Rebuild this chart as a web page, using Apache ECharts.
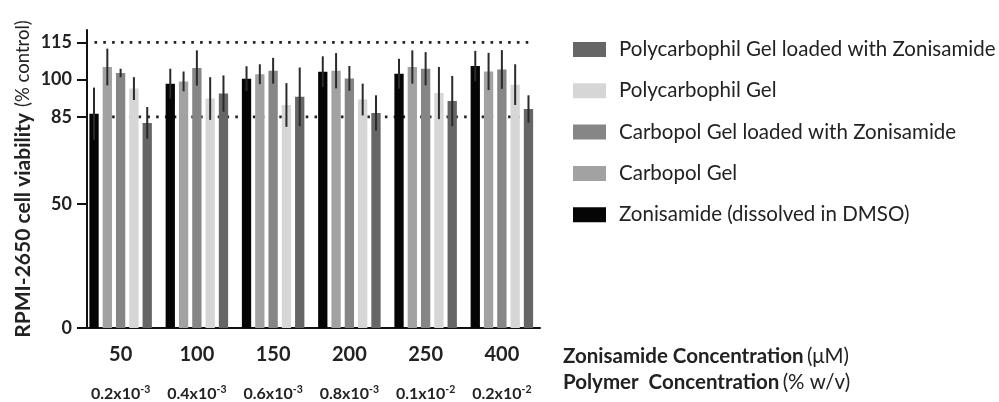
<!DOCTYPE html>
<html><head><meta charset="utf-8">
<script src="https://cdn.jsdelivr.net/npm/echarts@6/dist/echarts.min.js"></script>
<style>html,body{margin:0;padding:0;background:#fff}#c{width:999px;height:402px}</style>
</head><body><div id="c"></div>
<script>
const categories = ['50', '100', '150', '200', '250', '400'];
const polymerBase = ['0.2x10', '0.4x10', '0.6x10', '0.8x10', '0.1x10', '0.2x10'];
const polymerExp = ['-3', '-3', '-3', '-3', '-2', '-2'];
const yTicks = [0, 50, 85, 100, 115];
const refLines = [115, 85];

const seriesNames = ['Zonisamide (dissolved in DMSO)', 'Carbopol Gel', 'Carbopol Gel loaded with Zonisamide', 'Polycarbophil Gel', 'Polycarbophil Gel loaded with Zonisamide'];
const zonisamide = [86.3, 98.4, 100.4, 103.2, 102.4, 105.5];
const zonisamideErr = [10.5, 6.0, 5.0, 6.2, 6.0, 6.1];
const carbopol = [105.1, 99.3, 102.2, 103.6, 105.1, 103.3];
const carbopolErr = [7.4, 4.0, 4.0, 7.1, 6.7, 7.5];
const carbopolZon = [102.7, 104.7, 103.6, 100.5, 104.4, 104.1];
const carbopolZonErr = [1.7, 7.1, 5.2, 5.0, 6.7, 7.8];
const polycarbophil = [96.4, 92.4, 89.8, 92.0, 94.6, 98.0];
const polycarbophilErr = [4.6, 8.6, 8.8, 6.4, 10.5, 8.2];
const polycarbophilZon = [82.6, 94.4, 93.1, 86.6, 91.4, 88.2];
const polycarbophilZonErr = [6.4, 7.3, 11.8, 7.1, 10.1, 5.5];

const values = [zonisamide, carbopol, carbopolZon, polycarbophil, polycarbophilZon];
const errors = [zonisamideErr, carbopolErr, carbopolZonErr, polycarbophilErr, polycarbophilZonErr];
const colors = ['#050505', '#a2a2a2', '#868686', '#d6d6d6', '#666666'];

const FONT = 'Lato';
const BAR_W = 9.3, GAP_PX = 4;

const chart = echarts.init(document.getElementById('c'), null, {renderer: 'canvas'});

const series = [];
// reference dotted lines (below bars)
series.push({
  type: 'custom', z: 1, silent: true,
  data: refLines.map(v => [0, v]),
  encode: {x: 0, y: 1},
  renderItem: (params, api) => {
    const y = api.coord([0, api.value(1)])[1];
    const cs = params.coordSys;
    return {type: 'line', shape: {x1: cs.x + 12, y1: y, x2: cs.x + cs.width - 6, y2: y},
      style: {stroke: '#222', lineWidth: 2.6, lineDash: [2.6, 6.2]}};
  }
});
values.forEach((vals, i) => {
  series.push({
    name: seriesNames[i], type: 'bar', z: 2,
    data: vals, barWidth: BAR_W, barGap: (GAP_PX / BAR_W * 100) + '%',
    itemStyle: {color: colors[i]}, silent: true
  });
});
values.forEach((vals, i) => {
  series.push({
    type: 'custom', z: 3, silent: true,
    data: vals.map((v, k) => [k, v - errors[i][k], v + errors[i][k]]),
    encode: {x: 0, y: [1, 2]},
    renderItem: (params, api) => {
      const k = api.value(0);
      const lo = api.coord([k, api.value(1)]);
      const hi = api.coord([k, api.value(2)]);
      const off = (i - 2) * (BAR_W + GAP_PX);
      return {type: 'line', shape: {x1: lo[0] + off, y1: lo[1], x2: hi[0] + off, y2: hi[1]},
        style: {stroke: '#2a2a2a', lineWidth: 2}};
    }
  });
});

chart.setOption({
  animation: false,
  textStyle: {fontFamily: FONT},
  grid: {left: 82.5, right: 459, top: 30, bottom: 73},
  legend: {
    orient: 'vertical', left: 568, top: 34,
    data: seriesNames.slice().reverse(),
    icon: 'rect', itemWidth: 33, itemHeight: 15, itemGap: 20.3,
    textStyle: {fontFamily: FONT, fontSize: 20.5, color: '#222', lineHeight: 20, padding: [0, 0, 0, 8]},
    selectedMode: false
  },
  xAxis: [{
    type: 'category', data: categories,
    axisLine: {lineStyle: {color: '#111', width: 2}},
    axisTick: {alignWithLabel: true, length: 8, lineStyle: {color: '#111', width: 2}},
    axisLabel: {interval: 0, fontFamily: FONT, fontSize: 20, fontWeight: 'bold', color: '#222', margin: 17}
  }, {
    type: 'category', data: categories, position: 'bottom',
    axisLine: {show: false}, axisTick: {show: false},
    axisLabel: {
      interval: 0, margin: 56,
      formatter: (v, idx) => '{b|' + polymerBase[idx] + '}{s|' + polymerExp[idx] + '}',
      rich: {
        b: {fontFamily: FONT, fontSize: 16, fontWeight: 'bold', color: '#222', lineHeight: 18, verticalAlign: 'bottom'},
        s: {fontFamily: FONT, fontSize: 10.5, fontWeight: 'bold', color: '#222', lineHeight: 18, verticalAlign: 'top', padding: [0, 0, 6, 0]}
      }
    }
  }],
  yAxis: {
    type: 'value', min: 0, max: 120, offset: -4.5,
    splitLine: {show: false},
    axisLine: {show: true, lineStyle: {color: '#111', width: 2}},
    axisTick: {show: true, length: 10, customValues: yTicks, lineStyle: {color: '#111', width: 2}},
    axisLabel: {customValues: yTicks, fontFamily: FONT, fontSize: 18, fontWeight: 'bold', color: '#222', margin: 15},
    name: '{b|RPMI-2650 cell viability}  {n|(% control)}',
    nameLocation: 'middle', nameRotate: 90, nameGap: 53,
    nameTextStyle: {
      rich: {
        b: {fontFamily: FONT, fontSize: 21, fontWeight: 'bold', color: '#222'},
        n: {fontFamily: FONT, fontSize: 18.5, color: '#222'}
      }
    }
  },
  graphic: [{
    type: 'text', left: 563, top: 346,
    style: {
      text: '{b|Zonisamide Concentration} {n|(μM)}',
      rich: {
        b: {fontFamily: FONT, fontSize: 20.5, fontWeight: 'bold', fill: '#222'},
        n: {fontFamily: FONT, fontSize: 20.5, fill: '#222'}
      }
    }
  }, {
    type: 'text', left: 563, top: 372,
    style: {
      text: '{b|Polymer  Concentration} {n|(% w/v)}',
      rich: {
        b: {fontFamily: FONT, fontSize: 20.5, fontWeight: 'bold', fill: '#222'},
        n: {fontFamily: FONT, fontSize: 20.5, fill: '#222'}
      }
    }
  }],
  series: series
});
</script>
</body></html>
